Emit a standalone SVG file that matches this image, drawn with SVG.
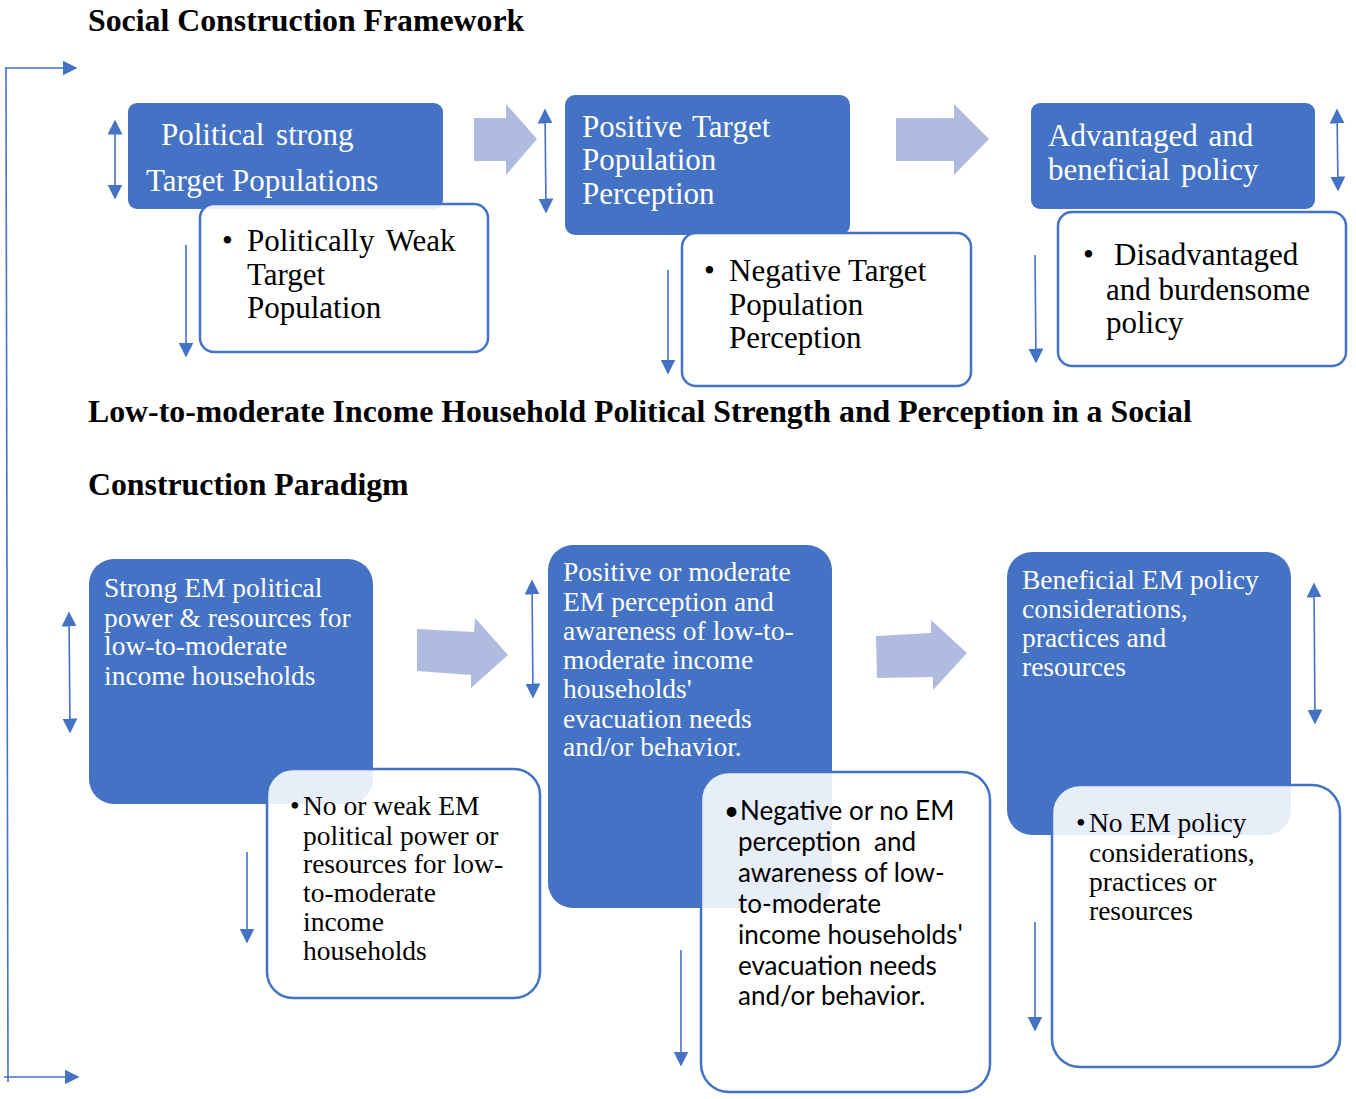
<svg xmlns="http://www.w3.org/2000/svg" width="1356" height="1099" viewBox="0 0 1356 1099">
<defs>
<style>
.title{font-family:"Liberation Serif",serif;font-weight:bold;font-size:31.8px;fill:#000}
.blue{fill:#4472C4}
.wbox{fill:#fff;fill-opacity:0.88;stroke:#4472C4;stroke-width:2.5}
.bt{font-family:"Liberation Serif",serif;fill:#fff}
.wt{font-family:"Liberation Serif",serif;fill:#000}
.st{font-family:"Lato","Liberation Sans",sans-serif;fill:#000}
.blk{fill:#AFBCDF}
.ln{stroke:#4472C4;stroke-width:1.6;fill:none}
</style>
<marker id="ah" viewBox="0 0 10 10" refX="9" refY="5" markerWidth="15" markerHeight="15" markerUnits="userSpaceOnUse" orient="auto-start-reverse">
<path d="M0,0 L10,5 L0,10 z" fill="#4472C4"/>
</marker>
</defs>
<rect width="1356" height="1099" fill="#fff"/>

<g id="titles">
<text class="title" x="88" y="31">Social Construction Framework</text>
<text class="title" x="88" y="422">Low-to-moderate Income Household Political Strength and Perception in a Social</text>
<text class="title" x="88" y="495">Construction Paradigm</text>
</g>

<g id="node-political-strong">
<rect class="blue" x="128" y="103" width="315" height="106" rx="9"/>
<text class="bt" font-size="31"><tspan x="161" y="145" word-spacing="4">Political strong</tspan><tspan x="146" y="191">Target Populations</tspan></text>
</g>
<g id="node-politically-weak">
<rect class="wbox" x="200" y="204" width="288" height="148" rx="14"/>
<text class="wt" font-size="31"><tspan x="222" y="251">•</tspan><tspan x="247" y="251" word-spacing="4">Politically Weak</tspan><tspan x="247" y="285">Target</tspan><tspan x="247" y="318">Population</tspan></text>
</g>

<g id="node-positive-target">
<rect class="blue" x="565" y="95" width="285" height="140" rx="10"/>
<text class="bt" font-size="31"><tspan x="582" y="137" word-spacing="3">Positive Target</tspan><tspan x="582" y="170">Population</tspan><tspan x="582" y="204">Perception</tspan></text>
</g>
<g id="node-negative-target">
<rect class="wbox" x="682" y="233" width="289" height="153" rx="14"/>
<text class="wt" font-size="31"><tspan x="704" y="281">•</tspan><tspan x="729" y="281">Negative Target</tspan><tspan x="729" y="315">Population</tspan><tspan x="729" y="348">Perception</tspan></text>
</g>

<g id="node-advantaged">
<rect class="blue" x="1031" y="103" width="284" height="106" rx="9"/>
<text class="bt" font-size="31"><tspan x="1048" y="146" word-spacing="3">Advantaged and</tspan><tspan x="1048" y="180" word-spacing="3">beneficial policy</tspan></text>
</g>
<g id="node-disadvantaged">
<rect class="wbox" x="1058" y="212" width="288" height="154" rx="14"/>
<text class="wt" font-size="31"><tspan x="1083" y="265">•</tspan><tspan x="1114" y="265">Disadvantaged</tspan><tspan x="1106" y="300">and burdensome</tspan><tspan x="1106" y="333">policy</tspan></text>
</g>

<g id="node-strong-em">
<rect class="blue" x="89" y="559" width="284" height="245" rx="25"/>
<text class="bt" font-size="27.5"><tspan x="104" y="597">Strong EM political</tspan><tspan x="104" y="627">power &amp; resources for</tspan><tspan x="104" y="655">low-to-moderate</tspan><tspan x="104" y="685">income households</tspan></text>
</g>

<g id="node-positive-em">
<rect class="blue" x="548" y="545" width="284" height="363" rx="25"/>
<text class="bt" font-size="27.5"><tspan x="563" y="581">Positive or moderate</tspan><tspan x="563" y="611">EM perception and</tspan><tspan x="563" y="640">awareness of low-to-</tspan><tspan x="563" y="669">moderate income</tspan><tspan x="563" y="698">households'</tspan><tspan x="563" y="728">evacuation needs</tspan><tspan x="563" y="756">and/or behavior.</tspan></text>
</g>

<g id="node-beneficial-em">
<rect class="blue" x="1007" y="552" width="284" height="283" rx="25"/>
<text class="bt" font-size="27.5"><tspan x="1022" y="589">Beneficial EM policy</tspan><tspan x="1022" y="618">considerations,</tspan><tspan x="1022" y="647">practices and</tspan><tspan x="1022" y="676">resources</tspan></text>
</g>

<g id="node-weak-em">
<rect class="wbox" x="267" y="769" width="273" height="229" rx="26"/>
<text class="wt" font-size="27.5"><tspan x="290" y="815">•</tspan><tspan x="303" y="815">No or weak EM</tspan><tspan x="303" y="845">political power or</tspan><tspan x="303" y="873">resources for low-</tspan><tspan x="303" y="902">to-moderate</tspan><tspan x="303" y="931">income</tspan><tspan x="303" y="960">households</tspan></text>
</g>

<g id="node-negative-em">
<rect class="wbox" x="701" y="772" width="289" height="320" rx="28"/>
<text class="st" font-size="26"><tspan x="724" y="820">•</tspan><tspan x="740" y="820">Negative or no EM</tspan><tspan x="738" y="851" xml:space="preserve">perception  and</tspan><tspan x="738" y="882">awareness of low-</tspan><tspan x="738" y="913">to-moderate</tspan><tspan x="738" y="944">income households'</tspan><tspan x="738" y="975">evacuation needs</tspan><tspan x="738" y="1005">and/or behavior.</tspan></text>
</g>

<g id="node-no-em-policy">
<rect class="wbox" x="1052" y="785" width="288" height="282" rx="28"/>
<text class="wt" font-size="27.5"><tspan x="1076" y="832">•</tspan><tspan x="1089" y="832">No EM policy</tspan><tspan x="1089" y="862">considerations,</tspan><tspan x="1089" y="891">practices or</tspan><tspan x="1089" y="920">resources</tspan></text>
</g>

<g id="connectors">
<polygon class="blk" points="474,118 506,118 506,104 537,139 506,175 506,161 474,161"/>
<polygon class="blk" points="896,118 954,118 954,104 989,139 954,175 954,161 896,161"/>
<polygon class="blk" points="417,629 474,632 475,618 508,655 471,688 471,675 417,671"/>
<polygon class="blk" points="876,636 931,633 931,620 967,653 933,690 933,677 877,678"/>

<line class="ln" x1="115" y1="121" x2="115" y2="198" marker-start="url(#ah)" marker-end="url(#ah)"/>
<line class="ln" x1="545" y1="110" x2="546" y2="212" marker-start="url(#ah)" marker-end="url(#ah)"/>
<line class="ln" x1="1337" y1="110" x2="1338" y2="190" marker-start="url(#ah)" marker-end="url(#ah)"/>
<line class="ln" x1="69" y1="613" x2="70" y2="732" marker-start="url(#ah)" marker-end="url(#ah)"/>
<line class="ln" x1="532" y1="581" x2="533" y2="697" marker-start="url(#ah)" marker-end="url(#ah)"/>
<line class="ln" x1="1314" y1="584" x2="1315" y2="723" marker-start="url(#ah)" marker-end="url(#ah)"/>

<line class="ln" x1="186" y1="245" x2="186" y2="356" marker-end="url(#ah)"/>
<line class="ln" x1="668" y1="270" x2="668" y2="373" marker-end="url(#ah)"/>
<line class="ln" x1="1035" y1="255" x2="1036" y2="362" marker-end="url(#ah)"/>
<line class="ln" x1="247" y1="852" x2="247" y2="942" marker-end="url(#ah)"/>
<line class="ln" x1="681" y1="950" x2="681" y2="1065" marker-end="url(#ah)"/>
<line class="ln" x1="1035" y1="922" x2="1035" y2="1030" marker-end="url(#ah)"/>

<line class="ln" x1="6" y1="68" x2="8" y2="1082"/>
<line class="ln" x1="5" y1="68" x2="76" y2="68" marker-end="url(#ah)"/>
<line class="ln" x1="4" y1="1077" x2="78" y2="1077" marker-end="url(#ah)"/>
</g>
</svg>
